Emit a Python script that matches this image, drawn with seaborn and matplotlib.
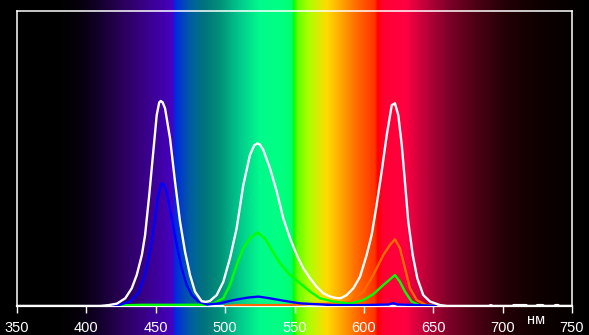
import numpy as np
import matplotlib
matplotlib.use("Agg")
import matplotlib.pyplot as plt
from matplotlib import font_manager
import seaborn as sns

# ---------------- data ----------------
wl_white = [350, 410, 416, 422, 428, 432.7, 436.3, 440, 442.3, 445.3, 447.8, 450.7, 452.5,
            453.6, 455, 456.7, 460.3, 463.9, 467.5, 471.1, 474.7, 478.3, 483.1, 486, 489,
            493.9, 498.7, 503.5, 508.3, 513.1, 517.9, 521, 523.2, 525, 527.5, 532.3, 537.2,
            541.9, 546.8, 551.6, 556.3, 561.2, 566, 570.8, 575.6, 580, 583, 587.6, 592.4,
            597.2, 602, 605.6, 609.2, 612.8, 616.5, 620.1, 622.4, 624.8, 627.3, 629.6, 632,
            635.2, 638.5, 642.8, 647.7, 655, 660, 690, 691.5, 693, 707, 708, 717, 718, 724,
            725, 729, 730, 737, 738, 740, 741, 750]
white = [0, 0, 0.003, 0.008, 0.026, 0.060, 0.105, 0.173, 0.240, 0.376, 0.502, 0.647, 0.690,
         0.695, 0.690, 0.670, 0.568, 0.421, 0.286, 0.184, 0.105, 0.049, 0.016, 0.014, 0.017,
         0.037, 0.082, 0.162, 0.263, 0.410, 0.512, 0.545, 0.551, 0.548, 0.529, 0.467, 0.388,
         0.297, 0.229, 0.173, 0.128, 0.094, 0.065, 0.043, 0.032, 0.027, 0.026, 0.037, 0.060,
         0.099, 0.173, 0.241, 0.342, 0.455, 0.580, 0.681, 0.687, 0.647, 0.546, 0.421, 0.286,
         0.173, 0.094, 0.037, 0.015, 0.003, 0, 0, 0.003, 0, 0, 0.003, 0.003, 0, 0,
         0.003, 0.003, 0, 0, 0.003, 0.003, 0, 0]

wl_blue = [415, 424, 431.4, 437.4, 441, 443.9, 447.1, 449.5, 451.8, 454.3, 456, 457.9, 461.5,
           465.1, 468.7, 472.3, 475.9, 480.7, 487, 496.3, 505.9, 515.5, 523.9, 532.3, 541.9,
           554, 578, 600, 618, 621, 624, 640, 652]
blue = [0, 0.004, 0.015, 0.043, 0.088, 0.139, 0.218, 0.297, 0.376, 0.416, 0.410, 0.388, 0.297,
        0.207, 0.128, 0.071, 0.037, 0.015, 0.005, 0.009, 0.020, 0.028, 0.032, 0.026, 0.018,
        0.009, 0.003, 0.003, 0.005, 0.010, 0.005, 0.003, 0]

wl_green = [422, 440, 470, 485, 491.5, 498.7, 503.5, 508.3, 513.1, 517.9, 523.2, 528.7, 533.6,
            539.5, 546.8, 554, 561.2, 568.4, 578, 590, 599.6, 606.8, 614, 618.8, 622.4, 626,
            629.6, 634.4, 640, 650]
green = [0.002, 0.004, 0.004, 0.004, 0.009, 0.026, 0.071, 0.139, 0.196, 0.229, 0.249, 0.229,
         0.190, 0.145, 0.105, 0.077, 0.049, 0.026, 0.015, 0.008, 0.020, 0.040, 0.071, 0.090,
         0.105, 0.082, 0.049, 0.015, 0.003, 0]

wl_red = [500, 510, 530, 545, 560, 575, 590, 599.6, 606.8, 614, 618.8, 622.4, 626, 629.6,
          633.2, 638.1, 645, 655]
red = [0, 0.003, 0.003, 0.003, 0.006, 0.008, 0.012, 0.049, 0.105, 0.173, 0.207, 0.226, 0.196,
       0.128, 0.060, 0.020, 0.003, 0]

x_ticks = [350, 400, 450, 500, 550, 600, 650, 700, 750]
unit_label = "нм"

# ---------------- spectrum background colour stops ----------------
spec_wl = [330, 380, 395, 410, 425, 440, 455, 462, 464, 468, 475, 485, 495, 510, 525, 540,
           548, 549.5, 552, 560, 573, 582, 594, 608, 610, 614, 630, 642, 661, 681, 702, 726,
           750, 765]
spec_rgb = [(0, 0, 0), (0, 0, 0), (5, 0, 10), (20, 0, 45), (40, 0, 85), (55, 0, 130),
            (65, 0, 170), (70, 0, 195), (0, 40, 225), (0, 60, 200), (0, 95, 160),
            (0, 115, 125), (0, 140, 120), (0, 200, 140), (0, 250, 140), (0, 255, 130),
            (0, 255, 110), (0, 255, 0), (100, 255, 0), (170, 255, 0), (255, 220, 0),
            (255, 175, 0), (255, 110, 0), (255, 50, 0), (255, 0, 0), (255, 0, 50),
            (255, 0, 65), (200, 0, 60), (125, 0, 40), (75, 0, 20), (35, 0, 5), (15, 0, 0),
            (5, 0, 0), (0, 0, 0)]

# ---------------- style ----------------
sns.set_style("ticks")
names = {f.name for f in font_manager.fontManager.ttflist}
if "Liberation Sans Narrow" in names:
    fam, fsz = "Liberation Sans Narrow", 11
else:
    fam, fsz = "Liberation Sans", 10.5
plt.rcParams["font.family"] = [fam, "DejaVu Sans"]

W, H = 589, 335
fig = plt.figure(figsize=(W / 100, H / 100), dpi=100, facecolor="black")

x_left, x_right = 17, 572          # pixel positions of 350 and 750
y_base, y_top = 306, 11            # pixel rows of baseline and frame top
ppn = (x_right - x_left) / (x_ticks[-1] - x_ticks[0])
xmin = x_ticks[0] - x_left / ppn
xmax = x_ticks[-1] + (W - x_right) / ppn

# background spectrum over the whole figure
bg = fig.add_axes([0, 0, 1, 1])
bg.set_xlim(xmin, xmax)
bg.set_ylim(0, 1)
bg.axis("off")
xs = np.linspace(xmin, xmax, 1600)
rgb = np.array(spec_rgb, dtype=float) / 255.0
img = np.stack([np.interp(xs, spec_wl, rgb[:, c]) for c in range(3)], axis=-1)[None, :, :]
bg.imshow(img, extent=[xmin, xmax, 0, 1], aspect="auto", interpolation="bilinear")

# main axes
ax = fig.add_axes([x_left / W, (H - y_base) / H, (x_right - x_left) / W, (y_base - y_top) / H])
ax.set_facecolor("none")

lw = 1.7
sns.lineplot(x=wl_red, y=red, color="#ff6a00", linewidth=lw, ax=ax, zorder=3, sort=False)
sns.lineplot(x=wl_green, y=green, color="#00ff00", linewidth=lw, ax=ax, zorder=4, sort=False)
sns.lineplot(x=wl_blue, y=blue, color="#0000ff", linewidth=lw, ax=ax, zorder=5, sort=False)
sns.lineplot(x=wl_white, y=white, color="white", linewidth=lw, ax=ax, zorder=6, sort=False)

ax.set_xlim(x_ticks[0], x_ticks[-1])
ax.set_ylim(0, 1)
ax.set_xticks(x_ticks)
ax.set_xticklabels([str(t) for t in x_ticks])
ax.set_yticks([])
ax.set_xlabel("")
ax.set_ylabel("")
for s in ax.spines.values():
    s.set_color("white")
    s.set_linewidth(1.1)
    s.set_visible(True)
ax.spines["bottom"].set_linewidth(1.6)
ax.tick_params(axis="x", colors="white", length=5, width=1, direction="out",
               pad=6.0, labelsize=fsz, labelcolor="white")

ax.text(724, -13.5 / (y_base - y_top), unit_label, transform=ax.get_xaxis_transform(),
        color="white", fontsize=10.5, ha="center", va="center",
        family=["Liberation Sans", "DejaVu Sans"])

fig.savefig("out.png", dpi=100, facecolor="black")
